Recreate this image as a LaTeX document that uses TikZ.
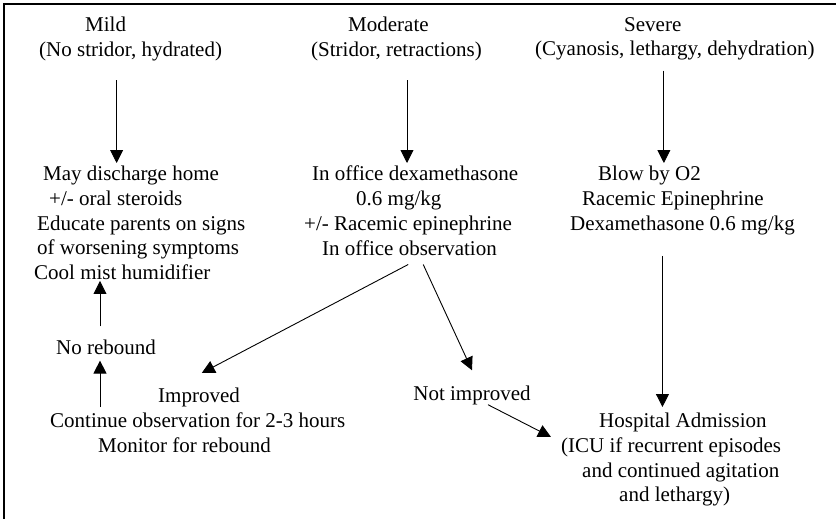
\documentclass[tikz,border=0pt]{standalone}
\usepackage{fontspec}
\setmainfont{Liberation Serif}
\usetikzlibrary{arrows.meta}
\tikzset{
  step text/.style={
    inner sep=0pt, align=left, anchor=north west,
    font=\fontsize{21}{24.7}\selectfont,
  },
  flow arrow/.style={
    line width=0.9pt,
    -{Triangle[width=13pt,length=13pt]},
  },
  page frame/.style={
    line width=1.2pt,
  },
}

\begin{document}
\begin{tikzpicture}[x=1pt,y=-1pt]

\useasboundingbox (0,0) rectangle (836,519);
\draw[page frame] (4,540) -- (4,4) -- (850,4);

% --- severity headers ---
\node[step text] (mildhead) at (39,17)
  {\hspace*{46pt}Mild\\(No stridor, hydrated)};
\node[step text] (modhead) at (311,17)
  {\hspace*{37pt}Moderate\\(Stridor, retractions)};
\node[step text] (sevhead) at (535,17)
  {\hspace*{89pt}Severe\\(Cyanosis, lethargy, dehydration)};

% --- first line of care ---
\node[step text] (mildtreat) at (34,166)
  {\hspace*{9pt}May discharge home\\\hspace*{15pt}+/- oral steroids\\
   \hspace*{3pt}Educate parents on signs\\\hspace*{3pt}of worsening symptoms\\
   Cool mist humidifier};
\node[step text] (modtreat) at (304,166)
  {\hspace*{8pt}In office dexamethasone\\\hspace*{52pt}0.6 mg/kg\\
   +/- Racemic epinephrine\\\hspace*{18pt}In office observation};
\node[step text] (sevtreat) at (570,166)
  {\hspace*{28pt}Blow by O2\\\hspace*{12pt}Racemic Epinephrine\\
   Dexamethasone 0.6 mg/kg};

% --- outcomes ---
\node[step text, anchor=center] (norebound) at (106,347) {No rebound};
\node[step text] (improved) at (50,388)
  {\hspace*{108pt}Improved\\Continue observation for 2-3 hours\\
   \hspace*{48pt}Monitor for rebound};
\node[step text, anchor=center] (notimproved) at (472,395) {Not improved};
\node[step text] (hospital) at (561,413)
  {\hspace*{38pt}Hospital Admission\\(ICU if recurrent episodes\\
   \hspace*{21pt}and continued agitation\\\hspace*{58pt}and lethargy)};

% --- arrows down from the headers ---
\draw[flow arrow] ([xshift=-14pt,yshift=-19pt]mildhead.south)
  -- ([xshift=-14pt,yshift=3pt]mildhead.south |- mildtreat.north);
\draw[flow arrow] ([xshift=10.5pt,yshift=-19pt]modhead.south)
  -- ([xshift=10.5pt,yshift=3pt]modhead.south |- modtreat.north);
\draw[flow arrow] ([xshift=-11pt,yshift=-10pt]sevhead.south)
  -- ([xshift=-11pt,yshift=3pt]sevhead.south |- sevtreat.north);

% --- moderate branches ---
\draw[flow arrow] ([xshift=-3pt,yshift=-9pt]modtreat.south)
  -- ([xshift=4pt,yshift=15pt]improved.north);
\draw[flow arrow] ([xshift=12pt,yshift=-9pt]modtreat.south)
  -- ([yshift=15pt]notimproved.north);

% --- mild side, back up ---
\draw[flow arrow] ([xshift=50pt,yshift=-19pt]improved.north west)
  -- ([xshift=50pt,yshift=-6pt]improved.north west |- norebound.south);
\draw[flow arrow] ([xshift=-6pt,yshift=13pt]norebound.north)
  -- ([xshift=-6pt,yshift=-1pt]norebound.north |- mildtreat.south);

% --- to hospital ---
\draw[flow arrow] ([xshift=16pt]notimproved.south)
  -- ([xshift=-10pt,yshift=-24pt]hospital.north west);
\draw[flow arrow] ([xshift=-20pt,yshift=-21pt]sevtreat.south)
  -- ([xshift=-20pt,yshift=6pt]sevtreat.south |- hospital.north);

\end{tikzpicture}
\end{document}
